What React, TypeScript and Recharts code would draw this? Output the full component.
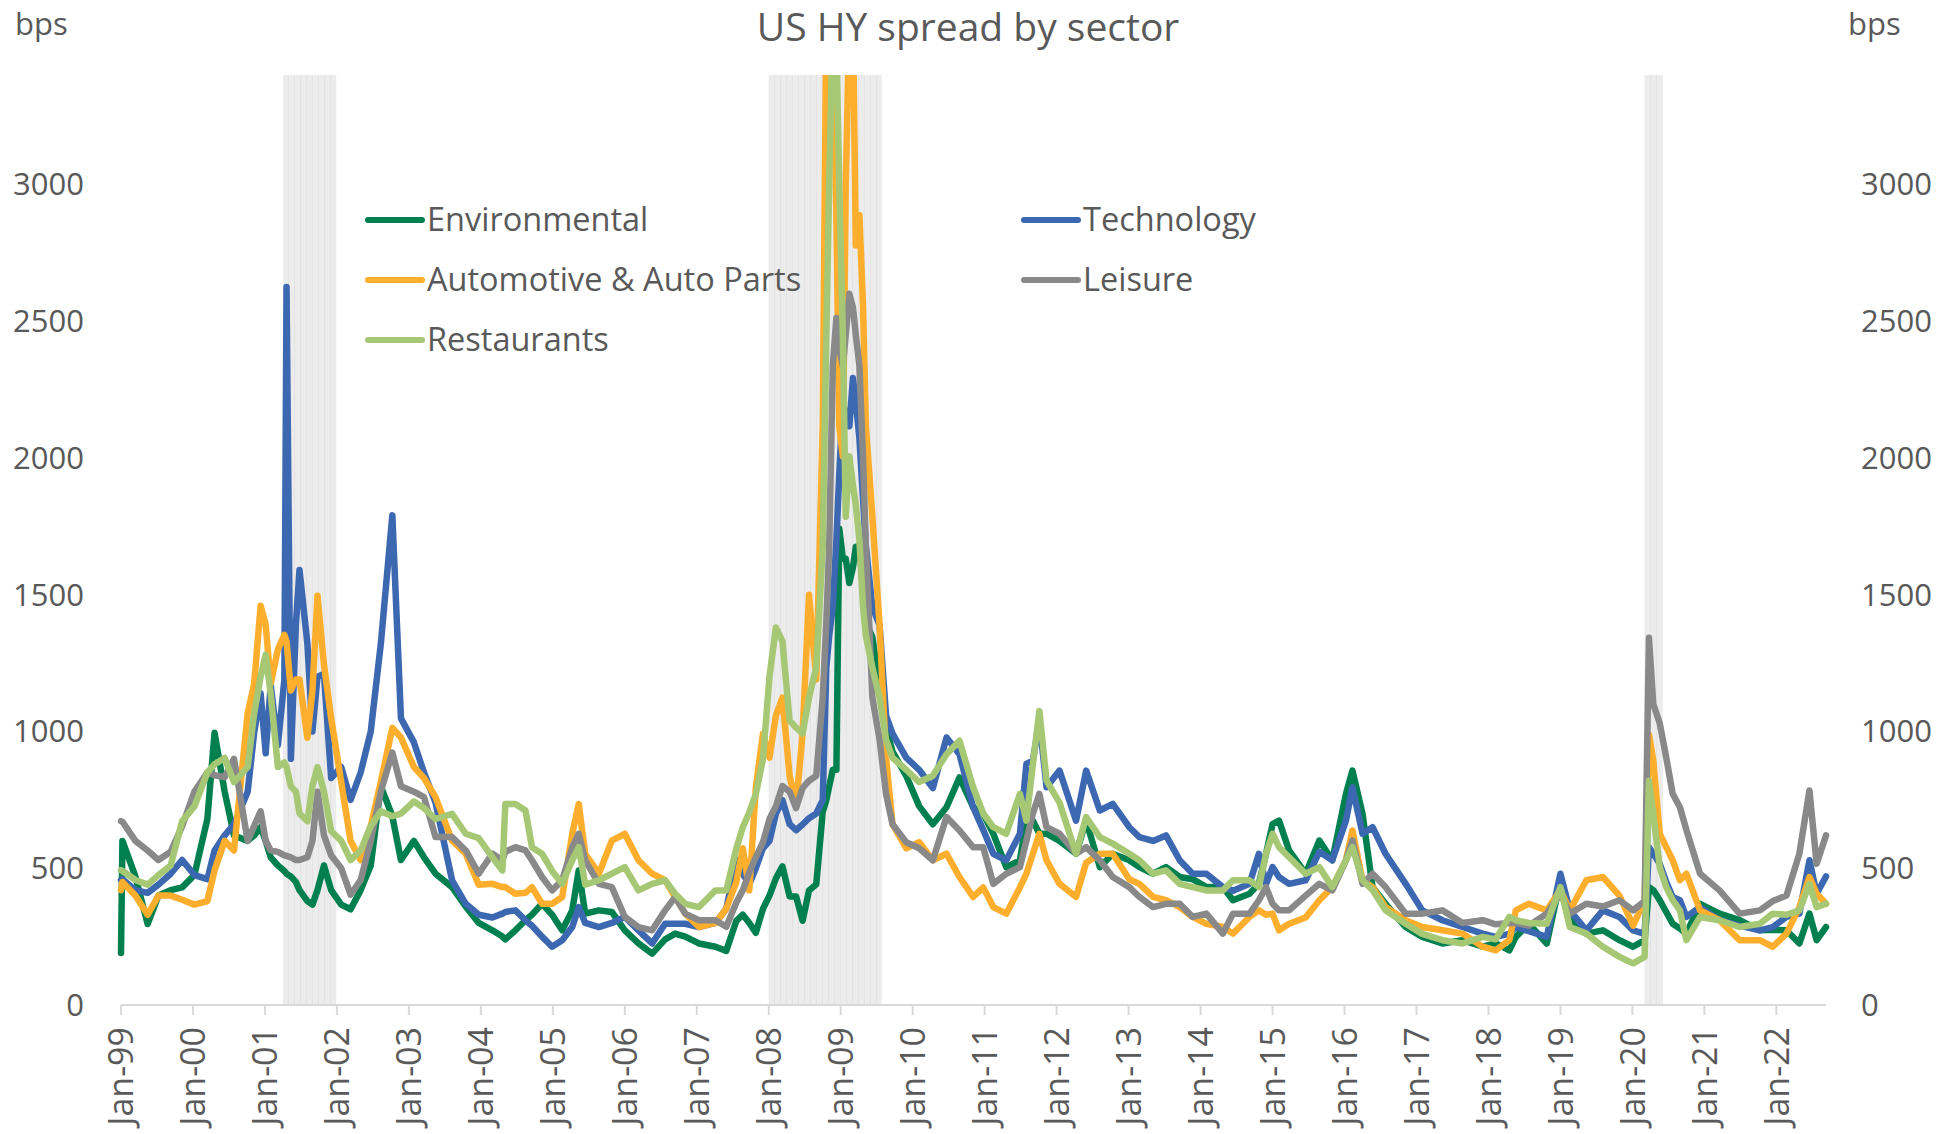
import React from "react";
import { LineChart, Line, XAxis, YAxis, ReferenceArea } from "recharts";

// decimal year of each observation (shared by every sector)
const dates = [
  1999.0, 1999.02, 1999.2, 1999.37, 1999.52, 1999.69, 1999.85, 2000.02, 2000.2, 2000.3,
  2000.44, 2000.57, 2000.76, 2000.85, 2000.94, 2001.01, 2001.08, 2001.18, 2001.27, 2001.3,
  2001.36, 2001.43, 2001.48, 2001.59, 2001.66, 2001.73, 2001.82, 2001.92, 2002.06, 2002.19,
  2002.33, 2002.47, 2002.61, 2002.77, 2002.89, 2003.07, 2003.21,
  2003.37, 2003.6, 2003.79, 2003.97, 2004.16, 2004.3, 2004.34, 2004.48, 2004.62, 2004.71,
  2004.85, 2004.99, 2005.13, 2005.27, 2005.36, 2005.45, 2005.64, 2005.82, 2006.0, 2006.19,
  2006.38, 2006.56, 2006.7, 2006.84, 2007.03, 2007.26,
  2007.41, 2007.55, 2007.64, 2007.73, 2007.82, 2007.92, 2008.01, 2008.1, 2008.19, 2008.29,
  2008.38, 2008.47, 2008.56, 2008.66, 2008.75, 2008.8, 2008.84, 2008.89, 2008.94, 2008.98,
  2009.03, 2009.07, 2009.12, 2009.17, 2009.21, 2009.26, 2009.31, 2009.35, 2009.44, 2009.54,
  2009.63, 2009.72, 2009.91, 2010.09,
  2010.28, 2010.47, 2010.65, 2010.84, 2010.98, 2011.12, 2011.3, 2011.49, 2011.58, 2011.67,
  2011.76, 2011.86, 2012.04, 2012.27, 2012.41, 2012.6, 2012.78, 2013.01, 2013.15, 2013.34,
  2013.52, 2013.71, 2013.89, 2014.08, 2014.31, 2014.45,
  2014.68, 2014.81, 2014.91, 2015.0, 2015.09, 2015.23, 2015.46, 2015.65, 2015.83, 2016.02,
  2016.11, 2016.25, 2016.39, 2016.57, 2016.85, 2017.08, 2017.36, 2017.64, 2017.92, 2018.1,
  2018.29, 2018.38, 2018.56,
  2018.81, 2019.0, 2019.13, 2019.36, 2019.59, 2019.82, 2020.01, 2020.17, 2020.23, 2020.29,
  2020.38, 2020.47, 2020.56, 2020.66, 2020.75, 2020.94, 2021.21, 2021.49, 2021.77, 2021.95,
  2022.14, 2022.32, 2022.46, 2022.56, 2022.69,
];

const environmental = [
  190, 600, 470, 296, 400, 420, 430, 475, 680, 995, 780, 620, 600, 620, 650, 600, 540, 510, 490, 480,
  470, 450, 420, 380, 367, 420, 510, 420, 367, 350, 420, 510, 800, 690, 530, 600, 540,
  480, 431, 360, 300, 273, 250, 240, 273, 310, 330, 370, 330, 273, 346, 492, 334, 346, 340, 273, 225,
  188, 240, 261, 250, 225, 213,
  198, 308, 330, 300, 264, 352, 400, 463, 507, 397, 397, 308, 419, 441, 705, 749, 800, 860, 860, 1741,
  1631, 1631, 1543, 1600, 1675, 1675, 1521, 1400, 1344, 1168, 1014, 926, 838, 727,
  661, 723, 832, 723, 699, 626, 504, 529, 674, 674, 626, 626, 600, 553, 674, 504, 553, 529, 504, 480,
  504, 468, 460, 431, 431, 383,
  407, 443, 553, 661, 674, 565, 480, 601, 529, 772, 857, 699, 431, 370, 285, 249, 225, 237, 213, 225,
  200, 249, 297,
  225, 456, 310, 261, 273, 237, 213, 237, 431, 420, 383, 340, 297, 280, 261, 370, 334, 310, 273, 275,
  273, 225, 334, 237, 285,
];

const technology = [
  457, 460, 420, 410, 440, 480, 530, 475, 460, 565, 620, 660, 780, 995, 1140, 920, 1170, 950, 1190, 2625,
  900, 1390, 1590, 1320, 1000, 1200, 1210, 830, 870, 750, 850, 1000, 1320, 1790, 1048, 960, 850,
  740, 456, 370, 330, 320, 334, 340, 346, 310, 290, 250, 213, 237, 285, 358, 300, 285, 300, 322, 273,
  225, 297, 297, 297, 285, 300,
  352, 529, 480, 441, 500, 573, 600, 700, 749, 661, 639, 660, 683, 700, 749, 1234, 1350, 1455, 1700, 1940,
  2204, 2150, 2116, 2292, 2204, 2072, 1850, 1675, 1455, 1389, 1058, 992, 904, 860,
  793, 978, 917, 723, 640, 553, 529, 626, 881, 893, 1040, 796, 857, 674, 857, 711, 735, 650, 614, 600,
  620, 529, 480, 480, 431, 418,
  443, 553, 443, 504, 468, 443, 456, 560, 529, 674, 796, 626, 650, 553, 443, 346, 310, 285, 261, 249,
  260, 285, 270,
  249, 480, 346, 273, 346, 322, 273, 260, 577, 553, 516, 450, 395, 383, 322, 358, 310, 290, 273, 285,
  322, 334, 529, 407, 470,
];

const automotive = [
  420, 450, 400, 330, 400, 400, 385, 367, 380, 493, 600, 565, 1066, 1174, 1460, 1390, 1174, 1300, 1353, 1330,
  1150, 1190, 1190, 977, 1150, 1496, 1245, 1048, 815, 600, 530, 654, 815, 1013, 978, 870, 830,
  760, 601, 553, 440, 443, 431, 431, 407, 410, 431, 370, 370, 395, 626, 735, 553, 480, 601, 626, 529,
  480, 456, 395, 334, 285, 300,
  352, 450, 573, 419, 793, 992, 904, 1058, 1124, 838, 727, 992, 1500, 1190, 2116, 3600, 3600, 3600, 2887, 2116,
  2006, 3000, 3600, 3600, 2777, 2887, 2556, 2116, 1785, 1389, 904, 661, 573, 595,
  529, 553, 468, 395, 430, 358, 334, 430, 480, 553, 626, 529, 443, 395, 520, 553, 553, 460, 443, 395,
  383, 358, 322, 297, 285, 261,
  322, 346, 330, 334, 273, 297, 320, 383, 431, 529, 638, 456, 431, 358, 310, 285, 273, 261, 213, 200,
  237, 346, 370,
  346, 420, 346, 456, 468, 400, 290, 383, 990, 893, 626, 577, 529, 456, 480, 346, 310, 237, 237, 213,
  261, 358, 468, 407, 370,
];

const leisure = [
  672, 670, 600, 565, 530, 560, 654, 780, 850, 840, 833, 900, 600, 654, 708, 600, 565, 560, 547, 545,
  540, 530, 530, 540, 600, 780, 620, 547, 500, 403, 457, 600, 780, 923, 800, 780, 760,
  614, 614, 565, 480, 553, 529, 560, 577, 565, 529, 468, 419, 456, 577, 626, 529, 443, 431, 322, 285,
  273, 346, 395, 334, 310, 310,
  286, 375, 420, 485, 540, 595, 680, 727, 800, 780, 720, 793, 820, 838, 1124, 1400, 1675, 2336, 2512, 2400,
  2336, 2450, 2600, 2550, 2450, 2336, 2000, 1675, 1124, 970, 771, 661, 595, 573,
  529, 687, 638, 577, 577, 443, 480, 504, 601, 700, 772, 650, 626, 553, 577, 529, 468, 431, 395, 358,
  370, 370, 322, 334, 261, 334,
  334, 383, 431, 370, 346, 346, 400, 443, 419, 529, 601, 443, 480, 431, 334, 334, 346, 300, 310, 295,
  300, 300, 290,
  334, 407, 334, 370, 360, 383, 346, 380, 1343, 1100, 1030, 905, 772, 723, 640, 480, 419, 334, 346, 380,
  400, 553, 784, 516, 620,
];

const restaurants = [
  493, 490, 457, 440, 475, 510, 672, 726, 850, 880, 903, 815, 870, 1066, 1200, 1281, 1138, 870, 887, 870,
  800, 780, 700, 672, 800, 870, 780, 636, 600, 530, 565, 654, 708, 690, 700, 744, 720,
  680, 699, 626, 610, 540, 492, 735, 735, 711, 577, 553, 490, 443, 529, 577, 440, 456, 480, 504, 419,
  443, 456, 407, 370, 358, 419,
  419, 573, 650, 705, 770, 900, 1200, 1380, 1330, 1040, 1014, 992, 1124, 1234, 1675, 2446, 3000, 3600, 3500, 3000,
  2446, 1785, 2006, 1900, 1829, 1700, 1455, 1350, 1234, 1124, 970, 904, 860, 815,
  838, 917, 966, 796, 700, 650, 626, 772, 674, 881, 1075, 820, 740, 553, 687, 614, 590, 553, 529, 480,
  492, 443, 431, 419, 419, 456,
  456, 431, 553, 626, 577, 540, 480, 504, 431, 529, 577, 456, 420, 346, 297, 260, 237, 225, 249, 240,
  322, 310, 300,
  297, 431, 285, 261, 213, 176, 152, 176, 820, 699, 504, 431, 383, 346, 237, 322, 310, 285, 297, 334,
  330, 346, 443, 358, 370,
];

// US recessions (shaded)
const recessionStart = [2001.25, 2008.0, 2020.17];
const recessionEnd = [2001.99, 2009.57, 2020.42];

const yearTicks = [
  1999, 2000, 2001, 2002, 2003, 2004, 2005, 2006, 2007, 2008, 2009, 2010,
  2011, 2012, 2013, 2014, 2015, 2016, 2017, 2018, 2019, 2020, 2021, 2022,
];
const bpsTicks = [0, 500, 1000, 1500, 2000, 2500, 3000];

const series = [
  { key: "env", name: "Environmental", color: "#00804e", values: environmental },
  { key: "tech", name: "Technology", color: "#3c67b1", values: technology },
  { key: "auto", name: "Automotive & Auto Parts", color: "#fdae2d", values: automotive },
  { key: "leis", name: "Leisure", color: "#898989", values: leisure },
  { key: "rest", name: "Restaurants", color: "#a6c874", values: restaurants },
];

const data = dates.map((t, i) => {
  const row: Record<string, number> = { t };
  series.forEach((s) => (row[s.key] = s.values[i]));
  return row;
});

const FONT = '"Open Sans", "Noto Sans", sans-serif';
const GREY = "#595959";

const fmtYear = (y: number) => "Jan-" + String(y % 100).padStart(2, "0");

const DateTick = (props: any) => {
  const { x, y, payload } = props;
  return (
    <text
      x={x}
      y={y}
      transform={`rotate(-90, ${x}, ${y})`}
      textAnchor="end"
      dy="0.36em"
      fill={GREY}
      fontSize={34}
      fontFamily={FONT}
    >
      {fmtYear(payload.value)}
    </text>
  );
};

// legend slots: two columns, filled row by row
const legendPos = [
  { x: 368, y: 220 },
  { x: 1024, y: 220 },
  { x: 368, y: 280 },
  { x: 1024, y: 280 },
  { x: 368, y: 340 },
];

export default function App() {
  const tickStyle = { fill: GREY, fontSize: 31, fontFamily: FONT };
  return (
    <div style={{ position: "absolute", left: 0, top: 0, width: 1958, height: 1134, background: "#fff" }}>
      <LineChart width={1958} height={1134} data={data} margin={{ top: 75, right: 0, bottom: 0, left: 0 }}>
        <defs>
          <pattern id="recess" width="6" height="10" patternUnits="userSpaceOnUse">
            <rect width="6" height="10" fill="#ececec" />
            <rect width="1" height="10" fill="#e3e3e3" />
          </pattern>
        </defs>
        <XAxis
          dataKey="t"
          type="number"
          domain={[1999, 2022.69]}
          ticks={yearTicks}
          interval={0}
          height={129}
          tick={<DateTick />}
          tickSize={10}
          tickMargin={12}
          stroke="#d9d9d9"
          strokeWidth={2}
        />
        <YAxis
          yAxisId="left"
          orientation="left"
          width={121}
          domain={[0, 3400]}
          ticks={bpsTicks}
          allowDataOverflow
          axisLine={false}
          tickLine={false}
          tickSize={0}
          tickMargin={37}
          tick={tickStyle}
        />
        <YAxis
          yAxisId="right"
          orientation="right"
          width={132}
          domain={[0, 3400]}
          ticks={bpsTicks}
          allowDataOverflow
          axisLine={false}
          tickLine={false}
          tickSize={0}
          tickMargin={35}
          tick={tickStyle}
        />
        {recessionStart.map((x1, i) => (
          <ReferenceArea
            key={i}
            yAxisId="left"
            x1={x1}
            x2={recessionEnd[i]}
            y1={0}
            y2={3400}
            fill="url(#recess)"
            fillOpacity={1}
            stroke="none"
            ifOverflow="hidden"
          />
        ))}
        {series.map((s) => (
          <Line
            key={s.key}
            yAxisId="left"
            dataKey={s.key}
            name={s.name}
            type="linear"
            stroke={s.color}
            strokeWidth={6.5}
            strokeLinejoin="round"
            strokeLinecap="round"
            dot={false}
            activeDot={false}
            isAnimationActive={false}
          />
        ))}
      </LineChart>
      <svg
        width={1958}
        height={1134}
        style={{ position: "absolute", left: 0, top: 0, pointerEvents: "none" }}
        fontFamily={FONT}
      >
        <text x={968} y={41} textAnchor="middle" fill={GREY} fontSize={39}>
          US HY spread by sector
        </text>
        <text x={15} y={35} fill={GREY} fontSize={31}>bps</text>
        <text x={1848} y={35} fill={GREY} fontSize={31}>bps</text>
        {series.map((s, i) => (
          <g key={s.key}>
            <line
              x1={legendPos[i].x}
              x2={legendPos[i].x + 54}
              y1={legendPos[i].y}
              y2={legendPos[i].y}
              stroke={s.color}
              strokeWidth={6}
              strokeLinecap="round"
            />
            <text x={legendPos[i].x + 59} y={legendPos[i].y + 11} fill={GREY} fontSize={32.5}>
              {s.name}
            </text>
          </g>
        ))}
      </svg>
    </div>
  );
}
